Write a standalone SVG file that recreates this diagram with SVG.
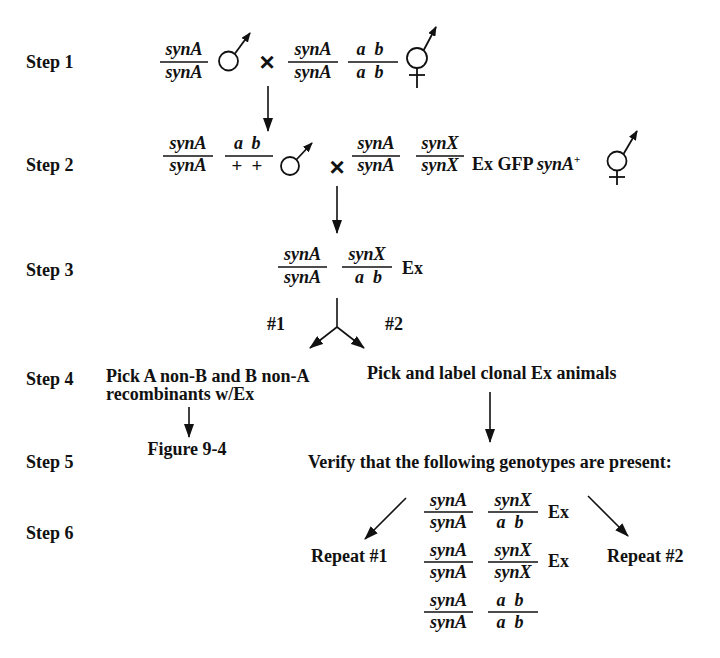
<svg xmlns="http://www.w3.org/2000/svg" width="720" height="658" viewBox="0 0 720 658">
<style>
text{font-family:"Liberation Serif","Times New Roman",serif;font-weight:bold;font-size:18px;fill:#111}
.g{font-style:italic;text-anchor:middle}
.m{text-anchor:middle}
.p{text-anchor:middle;font-size:19px}
.fl{stroke:#111;stroke-width:1.6}
.ln{stroke:#111;stroke-width:1.6;fill:none}
.sym{stroke:#111;stroke-width:1.8;fill:none}
.x{font-family:"Liberation Sans",Arial,sans-serif;font-size:26px;text-anchor:middle}
</style>
<defs>
<marker id="ah" viewBox="0 0 14 10" refX="13" refY="5" markerWidth="14" markerHeight="10" markerUnits="userSpaceOnUse" orient="auto">
<path d="M0,0 L14,5 L0,10 z" fill="#111"/>
</marker>
<marker id="sh" viewBox="0 0 10 8" refX="9" refY="4" markerWidth="10" markerHeight="8" markerUnits="userSpaceOnUse" orient="auto">
<path d="M0,0 L10,4 L0,8 z" fill="#111"/>
</marker>
</defs>
<rect width="720" height="658" fill="#fff"/>

<g id="steps">
<text x="26" y="68">Step 1</text>
<text x="26" y="171">Step 2</text>
<text x="26" y="276">Step 3</text>
<text x="26" y="385">Step 4</text>
<text x="26" y="468">Step 5</text>
<text x="26" y="539">Step 6</text>
</g>

<g id="step1">
<line class="fl" x1="160" y1="62" x2="208" y2="62"/>
<text class="g" x="184" y="55">synA</text>
<text class="g" x="184" y="78">synA</text>
<g id="male1">
<circle class="sym" cx="228.5" cy="61" r="9.5"/>
<line class="sym" x1="235" y1="53.5" x2="250" y2="33" marker-end="url(#sh)"/>
</g>
<text class="x" x="267" y="71">×</text>
<line class="fl" x1="288" y1="62" x2="338" y2="62"/>
<text class="g" x="313" y="55">synA</text>
<text class="g" x="313" y="78">synA</text>
<line class="fl" x1="348" y1="62" x2="398" y2="62"/>
<text class="g" x="361" y="55">a</text><text class="g" x="379" y="55">b</text>
<text class="g" x="361" y="78">a</text><text class="g" x="379" y="78">b</text>
<g id="herm1">
<circle class="sym" cx="417" cy="58" r="10"/>
<line class="sym" x1="423.5" y1="50.5" x2="436" y2="27" marker-end="url(#sh)"/>
<line class="sym" x1="417" y1="68" x2="417" y2="88"/>
<line class="sym" x1="409" y1="75" x2="425" y2="75"/>
</g>
</g>

<g id="step2">
<line class="fl" x1="163" y1="156" x2="213" y2="156"/>
<text class="g" x="188" y="149">synA</text>
<text class="g" x="188" y="171">synA</text>
<line class="fl" x1="225" y1="156" x2="273" y2="156"/>
<text class="g" x="238.5" y="149">a</text><text class="g" x="256" y="149">b</text>
<text class="p" x="237" y="172">+</text><text class="p" x="257" y="172">+</text>
<g id="male2">
<circle class="sym" cx="290" cy="166" r="9"/>
<line class="sym" x1="296.5" y1="159.5" x2="312" y2="143" marker-end="url(#sh)"/>
</g>
<text class="x" x="337" y="176">×</text>
<line class="fl" x1="352" y1="156" x2="400" y2="156"/>
<text class="g" x="376" y="149">synA</text>
<text class="g" x="376" y="171">synA</text>
<line class="fl" x1="416" y1="156" x2="464" y2="156"/>
<text class="g" x="440" y="149">synX</text>
<text class="g" x="440" y="171">synX</text>
<text x="472" y="170">Ex GFP <tspan font-style="italic">synA</tspan><tspan font-size="11" dy="-7">+</tspan></text>
<g id="herm2">
<circle class="sym" cx="617" cy="161" r="9.5"/>
<line class="sym" x1="623.5" y1="154" x2="637" y2="131" marker-end="url(#sh)"/>
<line class="sym" x1="617" y1="170.5" x2="617" y2="185"/>
<line class="sym" x1="609" y1="177" x2="625" y2="177"/>
</g>
</g>

<g id="step3">
<line class="fl" x1="278" y1="267" x2="327" y2="267"/>
<text class="g" x="302.5" y="260">synA</text>
<text class="g" x="302.5" y="283">synA</text>
<line class="fl" x1="342" y1="267" x2="392" y2="267"/>
<text class="g" x="367" y="260">synX</text>
<text class="g" x="359.5" y="283">a</text><text class="g" x="377.5" y="283">b</text>
<text x="402" y="274">Ex</text>
<text x="267" y="330">#1</text>
<text x="385" y="330">#2</text>
</g>

<g id="step4">
<text x="106" y="382">Pick A non-B and B non-A</text>
<text x="106" y="400">recombinants w/Ex</text>
<text x="367" y="379">Pick and label clonal Ex animals</text>
</g>

<g id="step5">
<text class="m" x="187" y="455">Figure 9-4</text>
<text x="308" y="468">Verify that the following genotypes are present:</text>
</g>

<g id="step6">
<text x="311" y="562">Repeat #1</text>
<text x="607" y="562">Repeat #2</text>
<line class="fl" x1="424" y1="512" x2="473" y2="512"/>
<text class="g" x="448.5" y="506">synA</text>
<text class="g" x="448.5" y="528">synA</text>
<line class="fl" x1="488" y1="512" x2="538" y2="512"/>
<text class="g" x="513" y="506">synX</text>
<text class="g" x="501" y="528">a</text><text class="g" x="519" y="528">b</text>
<text x="548" y="518">Ex</text>
<line class="fl" x1="424" y1="562" x2="473" y2="562"/>
<text class="g" x="448.5" y="556">synA</text>
<text class="g" x="448.5" y="578">synA</text>
<line class="fl" x1="488" y1="562" x2="538" y2="562"/>
<text class="g" x="513" y="556">synX</text>
<text class="g" x="513" y="578">synX</text>
<text x="548" y="567">Ex</text>
<line class="fl" x1="424" y1="612" x2="473" y2="612"/>
<text class="g" x="448.5" y="606">synA</text>
<text class="g" x="448.5" y="628">synA</text>
<line class="fl" x1="488" y1="612" x2="538" y2="612"/>
<text class="g" x="501" y="606">a</text><text class="g" x="519" y="606">b</text>
<text class="g" x="501" y="628">a</text><text class="g" x="519" y="628">b</text>
</g>

<g id="connectors">
<line class="ln" x1="268" y1="86" x2="268" y2="131" marker-end="url(#ah)"/>
<line class="ln" x1="337" y1="186" x2="337" y2="233" marker-end="url(#ah)"/>
<line class="ln" x1="337" y1="298" x2="337" y2="327"/>
<line class="ln" x1="337" y1="327" x2="310" y2="348" marker-end="url(#ah)"/>
<line class="ln" x1="337" y1="327" x2="364" y2="348" marker-end="url(#ah)"/>
<line class="ln" x1="189" y1="407" x2="189" y2="437" marker-end="url(#ah)"/>
<line class="ln" x1="490" y1="392" x2="490" y2="442" marker-end="url(#ah)"/>
<line class="ln" x1="406" y1="498" x2="365" y2="539" marker-end="url(#ah)"/>
<line class="ln" x1="588" y1="496" x2="628" y2="536" marker-end="url(#ah)"/>
</g>
</svg>
